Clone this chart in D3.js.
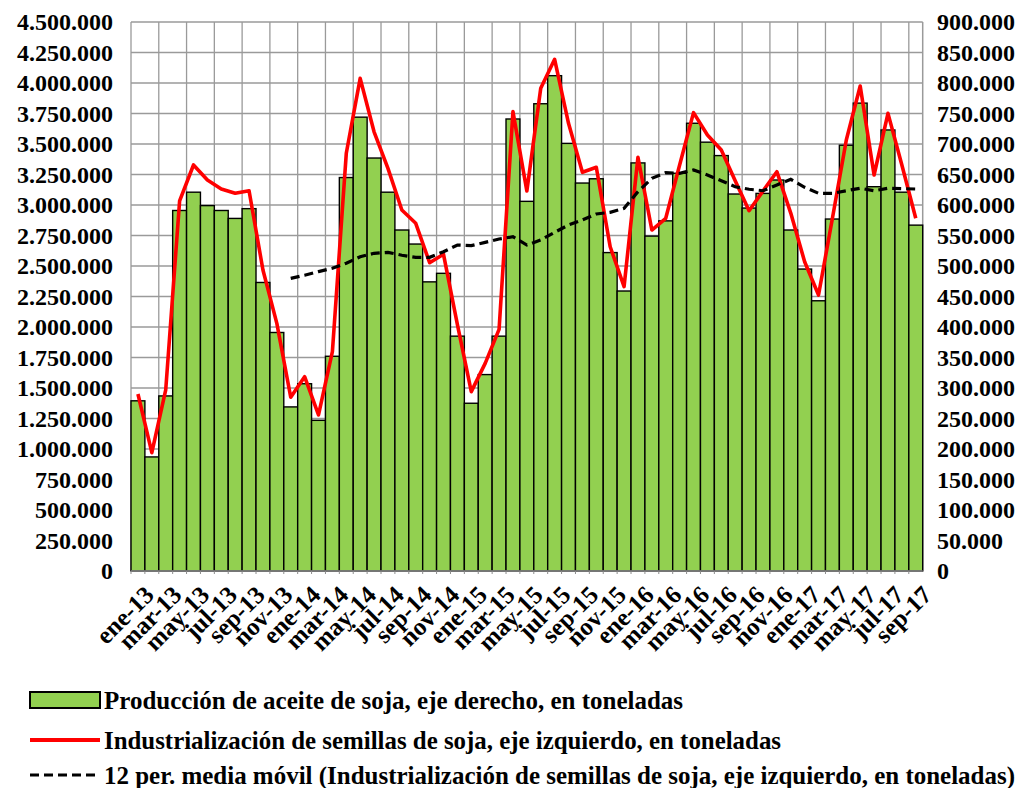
<!DOCTYPE html>
<html>
<head>
<meta charset="utf-8">
<script src="https://cdn.jsdelivr.net/npm/d3@7"></script>
<style>
  html, body { margin: 0; padding: 0; background: #fff; }
  svg text { font-family: "Liberation Serif", "Times New Roman", serif; font-weight: bold; fill: #000; }
</style>
</head>
<body>
<svg id="chart" width="1024" height="788"></svg>
<script>
// soybean crushing vs soybean oil output, monthly ene-13 .. sep-17
var months = [
  "ene-13","feb-13","mar-13","abr-13","may-13","jun-13","jul-13","ago-13","sep-13","oct-13","nov-13","dic-13",
  "ene-14","feb-14","mar-14","abr-14","may-14","jun-14","jul-14","ago-14","sep-14","oct-14","nov-14","dic-14",
  "ene-15","feb-15","mar-15","abr-15","may-15","jun-15","jul-15","ago-15","sep-15","oct-15","nov-15","dic-15",
  "ene-16","feb-16","mar-16","abr-16","may-16","jun-16","jul-16","ago-16","sep-16","oct-16","nov-16","dic-16",
  "ene-17","feb-17","mar-17","abr-17","may-17","jun-17","jul-17","ago-17","sep-17"
];
// bars, right axis (tonnes)
var oil = [
  279000,187000,287000,591000,621000,599000,591000,578000,594000,473000,391000,269000,
  307000,247000,352000,645000,744000,677000,621000,559000,536000,474000,488000,385000,
  275000,322000,385000,741000,606000,766000,812000,701000,636000,643000,522000,459000,
  669000,549000,574000,652000,734000,703000,681000,618000,595000,619000,641000,559000,
  495000,443000,577000,698000,767000,630000,723000,621000,567000
];
// red line, left axis (tonnes)
var crush = [
  1451000,970000,1484000,3033000,3328000,3205000,3131000,3096000,3117000,2467000,2030000,1424000,
  1593000,1279000,1798000,3424000,4038000,3600000,3300000,2959000,2850000,2527000,2596000,2020000,
  1470000,1702000,1981000,3765000,3115000,3957000,4194000,3670000,3268000,3309000,2658000,2331000,
  3391000,2795000,2891000,3328000,3757000,3574000,3451000,3199000,2953000,3115000,3273000,2934000,
  2535000,2262000,2891000,3533000,3975000,3246000,3751000,3328000,2891000
];
// 12 per. moving average, starts at dic-13
var maStart = "dic-13";
var movAvg = [
  2399000,2424000,2454000,2481000,2522000,2576000,2604000,2612000,2588000,2571000,2571000,2617000,
  2672000,2667000,2694000,2721000,2740000,2672000,2713000,2776000,2836000,2877000,2926000,2940000,
  2973000,3109000,3219000,3265000,3260000,3287000,3246000,3199000,3150000,3129000,3117000,3164000,
  3211000,3145000,3096000,3096000,3117000,3137000,3117000,3137000,3134000,3131000
];
var leftTicks = d3.range(0, 4500001, 250000);
var rightTicks = d3.range(0, 900001, 50000);
var legendItems = [
  "Producción de aceite de soja, eje derecho, en toneladas",
  "Industrialización de semillas de soja, eje izquierdo, en toneladas",
  "12 per. media móvil (Industrialización de semillas de soja, eje izquierdo, en toneladas)"
];

var L = 131, R = 922.7, T = 22, B = 571;
var svg = d3.select("#chart");
var loc = d3.formatLocale({ decimal: ",", thousands: ".", grouping: [3], currency: ["", ""] });
var fmt = loc.format(",d");

var x = d3.scaleBand().domain(months).range([L, R]).padding(0);
var yL = d3.scaleLinear().domain([0, 4500000]).range([B, T]);
var yR = d3.scaleLinear().domain([0, 900000]).range([B, T]);
var cx = function (m) { return x(m) + x.bandwidth() / 2; };

// grid
var g = svg.append("g");
g.selectAll("line.h").data(leftTicks).enter().append("line")
  .attr("x1", L).attr("x2", R).attr("y1", yL).attr("y2", yL)
  .attr("stroke", "#9a9a9a").attr("stroke-width", 1.3);
var vIdx = months.filter(function (m, i) { return i % 2 === 0; });
g.selectAll("line.v").data(vIdx).enter().append("line")
  .attr("x1", x).attr("x2", x).attr("y1", T).attr("y2", B)
  .attr("stroke", "#9a9a9a").attr("stroke-width", 1.3);
g.append("line").attr("x1", R).attr("x2", R).attr("y1", T).attr("y2", B)
  .attr("stroke", "#9a9a9a").attr("stroke-width", 1.5);

// bars
svg.append("g").selectAll("rect").data(oil).enter().append("rect")
  .attr("x", function (d, i) { return x(months[i]); })
  .attr("width", x.bandwidth())
  .attr("y", function (d) { return yR(d); })
  .attr("height", function (d) { return B - yR(d); })
  .attr("fill", "#92D050").attr("stroke", "#000").attr("stroke-width", 1.4);

// x axis line + small ticks
svg.append("line").attr("x1", L).attr("x2", R).attr("y1", B).attr("y2", B)
  .attr("stroke", "#8c8c8c").attr("stroke-width", 1.5);
svg.append("g").selectAll("line").data(months).enter().append("line")
  .attr("x1", x).attr("x2", x).attr("y1", B).attr("y2", B + 3)
  .attr("stroke", "#8c8c8c").attr("stroke-width", 1);

// red line
var line = d3.line().x(function (d) { return cx(d.m); }).y(function (d) { return yL(d.v); });
svg.append("path")
  .datum(crush.map(function (v, i) { return { m: months[i], v: v }; }))
  .attr("d", line).attr("fill", "none").attr("stroke", "#FF0000")
  .attr("stroke-width", 3.6).attr("stroke-linejoin", "round");

// moving average
var s0 = months.indexOf(maStart);
svg.append("path")
  .datum(movAvg.map(function (v, i) { return { m: months[s0 + i], v: v }; }))
  .attr("d", line).attr("fill", "none").attr("stroke", "#000")
  .attr("stroke-width", 3.2).attr("stroke-dasharray", "9,5");

// axis labels
svg.append("g").selectAll("text").data(leftTicks).enter().append("text")
  .attr("x", 113).attr("y", yL).attr("dy", "0.35em").attr("text-anchor", "end")
  .attr("font-size", 24).text(fmt);
svg.append("g").selectAll("text").data(rightTicks).enter().append("text")
  .attr("x", 937).attr("y", yR).attr("dy", "0.35em").attr("text-anchor", "start")
  .attr("font-size", 24).text(fmt);
svg.append("g").selectAll("text").data(vIdx).enter().append("text")
  .attr("transform", function (m) { return "translate(" + (cx(m) + 5) + "," + (B + 13) + ") rotate(-45)"; })
  .attr("dy", "0.7em").attr("text-anchor", "end").attr("font-size", 25).text(function (m) { return m; });

// legend
var lg = svg.append("g");
var ly = [700, 740, 775], lw = [579, 677, 911];
lg.append("rect").attr("x", 30).attr("y", ly[0] - 8).attr("width", 70).attr("height", 16)
  .attr("fill", "#92D050").attr("stroke", "#000").attr("stroke-width", 2);
lg.append("line").attr("x1", 30).attr("x2", 100).attr("y1", ly[1]).attr("y2", ly[1])
  .attr("stroke", "#FF0000").attr("stroke-width", 4);
lg.append("line").attr("x1", 30).attr("x2", 100).attr("y1", ly[2]).attr("y2", ly[2])
  .attr("stroke", "#000").attr("stroke-width", 3.2).attr("stroke-dasharray", "9,5");
lg.selectAll("text").data(legendItems).enter().append("text")
  .attr("x", 104).attr("y", function (d, i) { return ly[i]; }).attr("dy", "0.35em")
  .attr("font-size", 25).attr("textLength", function (d, i) { return lw[i]; })
  .attr("lengthAdjust", "spacingAndGlyphs").text(function (d) { return d; });
</script>
</body>
</html>
